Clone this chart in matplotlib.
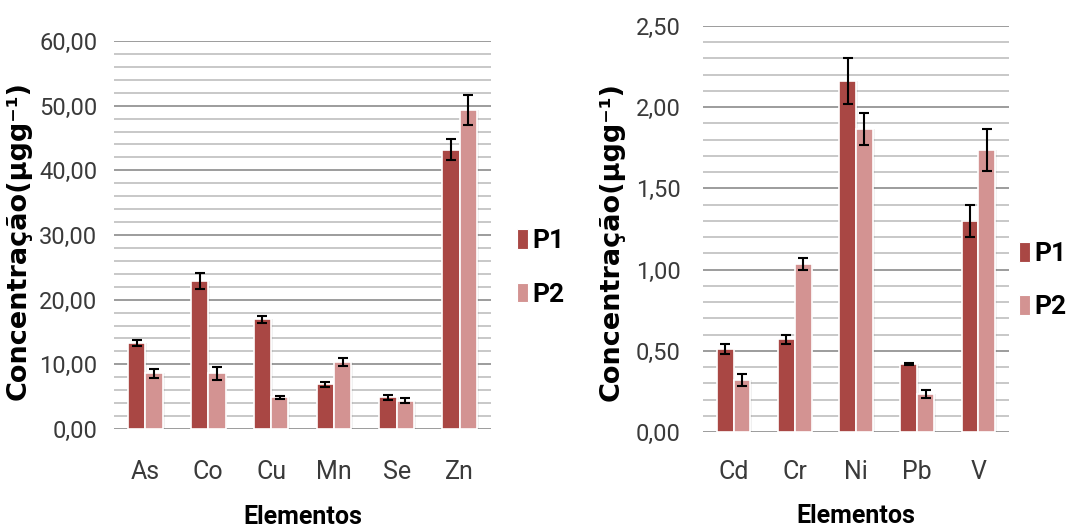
import matplotlib
matplotlib.use("Agg")
import matplotlib.pyplot as plt
import numpy as np

# Left chart data
cats_left = ["As", "Co", "Cu", "Mn", "Se", "Zn"]
p1_left = [13.3, 22.9, 17.0, 6.9, 4.9, 43.2]
p1_left_err = [0.4, 1.25, 0.55, 0.4, 0.4, 1.65]
p2_left = [8.6, 8.6, 4.9, 10.4, 4.35, 49.35]
p2_left_err = [0.7, 1.0, 0.2, 0.6, 0.4, 2.35]
yticks_left = [0, 10, 20, 30, 40, 50, 60]

# Right chart data
cats_right = ["Cd", "Cr", "Ni", "Pb", "V"]
p1_right = [0.51, 0.57, 2.16, 0.42, 1.30]
p1_right_err = [0.03, 0.03, 0.14, 0.005, 0.10]
p2_right = [0.32, 1.035, 1.865, 0.233, 1.735]
p2_right_err = [0.035, 0.035, 0.10, 0.023, 0.13]
yticks_right = [0, 0.5, 1.0, 1.5, 2.0, 2.5]

series_names = ["P1", "P2"]
ylabel_text = "Concentração(µgg⁻¹)"
xlabel_text = "Elementos"
c1 = "#A94744"
c2 = "#D39392"

W, H = 1069, 531
fig = plt.figure(figsize=(W / 100, H / 100), dpi=100)

NARROW = ["Roboto", "DejaVu Sans"]
ytick_font = dict(family=NARROW, weight="normal", size=17, color="#3A3A3A")
xtick_font = dict(family=NARROW, weight="normal", size=18, color="#3A3A3A")
label_font = dict(family="DejaVu Sans", weight="bold", size=19.5)
xlab_font = dict(family=NARROW, weight="bold", size=18)


def draw(ax, cats, v1, e1, v2, e2, yticks, minor_step, ymax,
         ypad, xpad, ylab_xy, xlab_y, legend_pos):
    x = np.arange(len(cats))
    bw = 0.275
    ax.set_xlim(-0.5, len(cats) - 0.5)
    ax.set_ylim(0, ymax)
    minors = np.arange(0, ymax + minor_step / 2, minor_step)
    for m in minors:
        ax.axhline(m, color="#C4C4C4", lw=1.3, zorder=0)
    for t in yticks:
        ax.axhline(t, color="#9A9A9A", lw=1.3, zorder=0.5)
    # soft shadows
    ax.bar(x - bw / 2 + 0.03, v1, bw, color="#000000", alpha=0.06, zorder=1)
    ax.bar(x + bw / 2 + 0.03, v2, bw, color="#000000", alpha=0.06, zorder=1)
    ax.bar(x - bw / 2, v1, bw, color=c1, edgecolor="white", linewidth=1.2,
           label=series_names[0], zorder=2)
    ax.bar(x + bw / 2, v2, bw, color=c2, edgecolor="white", linewidth=1.2,
           label=series_names[1], zorder=2)
    ax.errorbar(x - bw / 2, v1, yerr=e1, fmt="none", ecolor="black",
                elinewidth=1.5, capsize=3.5, capthick=1.5, zorder=3)
    ax.errorbar(x + bw / 2, v2, yerr=e2, fmt="none", ecolor="black",
                elinewidth=1.5, capsize=3.5, capthick=1.5, zorder=3)
    for s in ax.spines.values():
        s.set_visible(False)
    ax.set_xticks(x)
    ax.set_xticklabels(cats, fontdict=xtick_font)
    ax.set_yticks(yticks)
    ax.set_yticklabels([("%.2f" % t).replace(".", ",") for t in yticks],
                       fontdict=ytick_font)
    ax.tick_params(axis="both", length=0)
    ax.tick_params(axis="x", pad=xpad)
    ax.tick_params(axis="y", pad=ypad)
    ax.set_xlabel(xlabel_text, fontdict=xlab_font)
    ax.xaxis.set_label_coords(0.5, xlab_y)
    ax.set_ylabel(ylabel_text, fontdict=label_font)
    ax.yaxis.set_label_coords(*ylab_xy)
    leg = ax.legend(loc="center left", bbox_to_anchor=legend_pos,
                    bbox_transform=fig.transFigure, frameon=False,
                    borderpad=0, borderaxespad=0,
                    handlelength=0.42, handleheight=0.78, handletextpad=0.15,
                    labelspacing=1.1,
                    prop=dict(family=NARROW, weight="bold", size=19))
    for h in leg.legend_handles:
        h.set_edgecolor("white")
        h.set_linewidth(0.8)


# left axes: x 114..491, y 41..429 px
ax1 = fig.add_axes([114 / W, 1 - 429 / H, (491 - 114) / W, (429 - 41) / H])
draw(ax1, cats_left, p1_left, p1_left_err, p2_left, p2_left_err,
     yticks_left, 2, 60, ypad=12, xpad=22,
     ylab_xy=(-0.2175, 0.487), xlab_y=-0.195,
     legend_pos=(517 / W, 1 - 268 / H))

# right axes: x 703..1009, y 26..432 px
ax2 = fig.add_axes([703 / W, 1 - 432 / H, (1009 - 703) / W, (432 - 26) / H])
draw(ax2, cats_right, p1_right, p1_right_err, p2_right, p2_right_err,
     yticks_right, 0.1, 2.5, ypad=16, xpad=20,
     ylab_xy=(-0.255, 0.468), xlab_y=-0.178,
     legend_pos=(1019 / W, 1 - 280.5 / H))

fig.savefig("out.png", dpi=100)
